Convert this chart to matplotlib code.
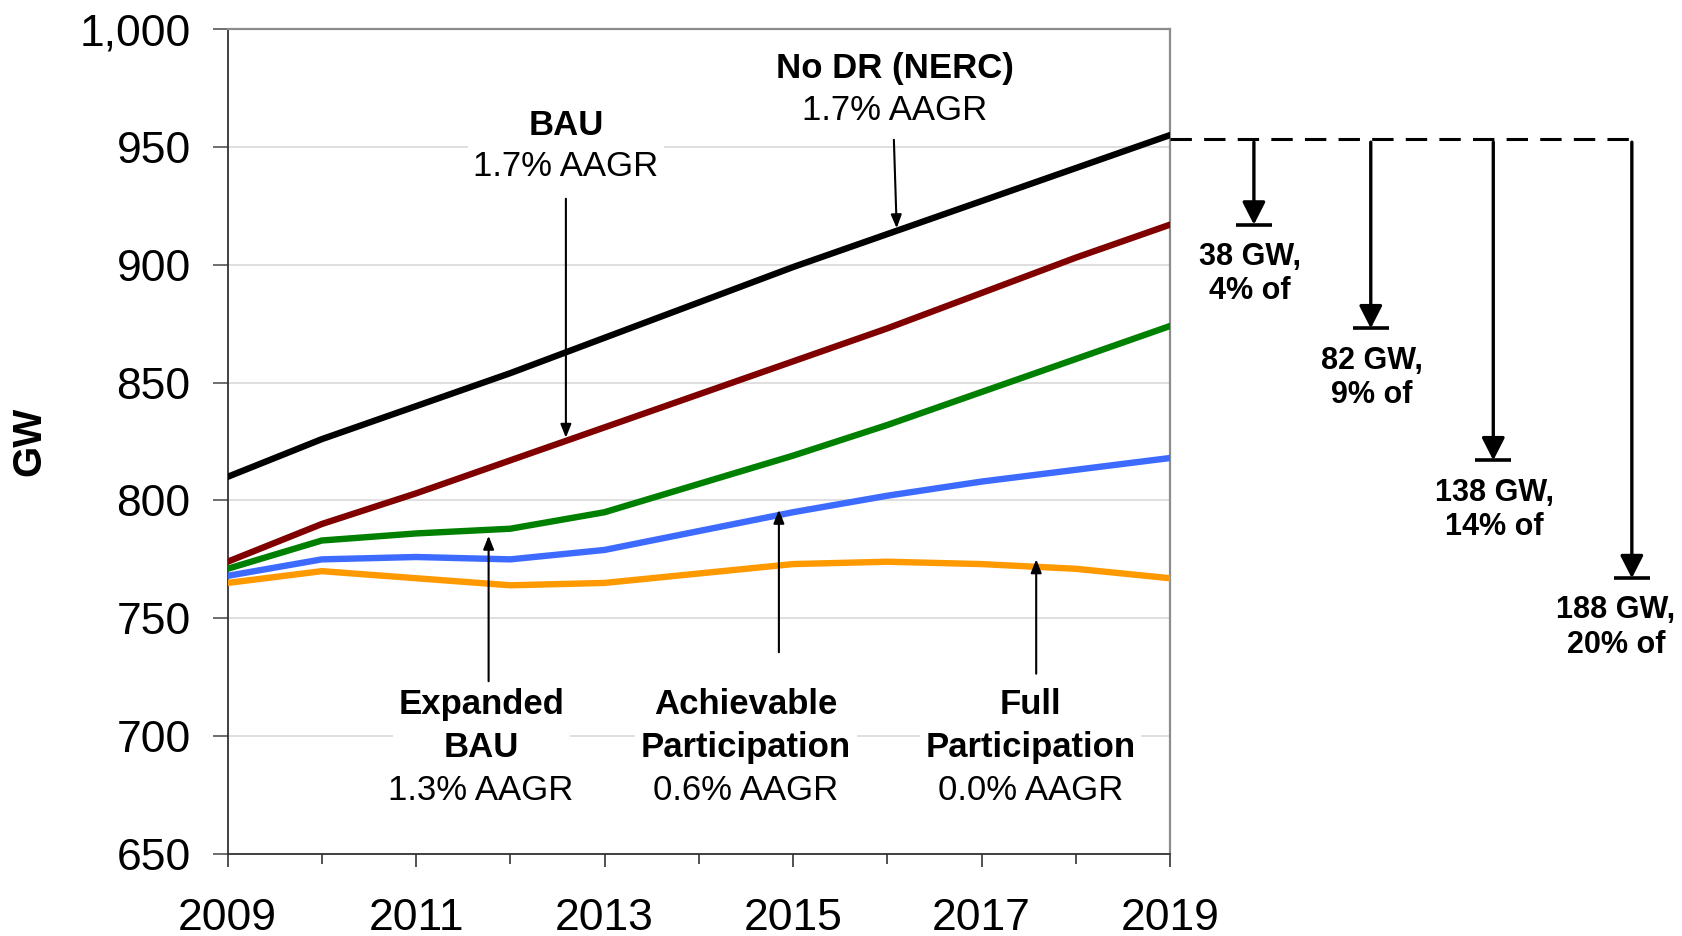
import numpy as np
import matplotlib
matplotlib.use("Agg")
import matplotlib.pyplot as plt
from matplotlib.ticker import FixedLocator, FuncFormatter, MultipleLocator

plt.rcParams['font.family'] = ['Liberation Sans', 'DejaVu Sans']

# data (GW)
years = list(range(2009, 2020))
no_dr = [810, 826, 840, 854, 869, 884, 899, 913, 927, 941, 955]
bau = [774, 790, 803, 817, 831, 845, 859, 873, 888, 903, 917]
expanded_bau = [771, 783, 786, 788, 795, 807, 819, 832, 846, 860, 874]
achievable = [768, 775, 776, 775, 779, 787, 795, 802, 808, 813, 818]
full_part = [765, 770, 767, 764, 765, 769, 773, 774, 773, 771, 767]

series = [no_dr, bau, expanded_bau, achievable, full_part]
colors = ['#000000', '#800000', '#008000', '#3d6bff', '#ff9900']

# reductions from the No DR peak in 2019
drop_gw = [38, 82, 138, 188]
drop_pct = [4, 9, 14, 20]
drop_x = [2019.89, 2021.13, 2022.43, 2023.9]
drop_label_x = [2019.85, 2021.14, 2022.44, 2023.73]

fig = plt.figure(figsize=(16.83, 9.36), dpi=100)
ax = fig.add_axes([0.1352, 0.0876, 0.5600, 0.8814])

for s, c in zip(series, colors):
    ax.plot(years, s, color=c, lw=4.6, solid_joinstyle='round', zorder=3)

ax.set_xlim(2009, 2019)
ax.set_ylim(650, 1000)
ax.yaxis.set_major_locator(MultipleLocator(50))
ax.yaxis.set_major_formatter(FuncFormatter(lambda v, p: f"{int(v):,}"))
ax.xaxis.set_major_locator(FixedLocator(years[::2]))
ax.xaxis.set_minor_locator(FixedLocator(years[1::2]))
ax.grid(axis='y', color='#d9d9d9', lw=1.2, zorder=0)
ax.set_axisbelow(True)

ax.tick_params(axis='y', direction='out', length=10.5, width=1.2, color='#555555',
               labelsize=32, pad=16)
ax.tick_params(axis='x', which='major', direction='out', length=9.5, width=1.2,
               color='#333333', labelsize=32, pad=22)
ax.tick_params(axis='x', which='minor', direction='out', length=7, width=1.2, color='#333333')
for side in ['left', 'bottom']:
    ax.spines[side].set_color('#333333')
    ax.spines[side].set_linewidth(1.3)
for side in ['top', 'right']:
    ax.spines[side].set_color('#8c8c8c')
    ax.spines[side].set_linewidth(1.6)

ax.set_ylabel('GW', fontsize=29, fontweight='bold')
ax.yaxis.set_label_coords(-0.19, 0.5)

box = dict(facecolor='white', edgecolor='none', pad=4)
small_arrow = dict(arrowstyle='-|>,head_length=0.8,head_width=0.32', lw=1.5, color='black',
                   shrinkA=0, shrinkB=0)

# top labels
ax.text(2012.59, 959, 'BAU', fontsize=25, fontweight='bold', ha='center', va='center', bbox=box, zorder=4)
ax.text(2012.59, 941.7, '1.7% AAGR', fontsize=25, ha='center', va='center', bbox=box, zorder=4)
ax.annotate('', xy=(2012.59, 826.6), xytext=(2012.59, 928), arrowprops=small_arrow, zorder=5)

ax.text(2016.08, 983.2, 'No DR (NERC)', fontsize=25, fontweight='bold', ha='center', va='center', bbox=box, zorder=4)
ax.text(2016.08, 965.4, '1.7% AAGR', fontsize=25, ha='center', va='center', bbox=box, zorder=4)
ax.annotate('', xy=(2016.1, 915.5), xytext=(2016.07, 953), arrowprops=small_arrow, zorder=5)

# bottom labels
bottom_labels = [
    (2011.69, 'Expanded\nBAU', '1.3% AAGR', 2011.77, 723.3, 785.0),
    (2014.50, 'Achievable\nParticipation', '0.6% AAGR', 2014.85, 735.6, 796.0),
    (2017.52, 'Full\nParticipation', '0.0% AAGR', 2017.58, 726.5, 775.0),
]
for cx, bold, normal, axx, y0, y1 in bottom_labels:
    ax.text(cx, 704.3, bold, fontsize=25, fontweight='bold', ha='center', va='center',
            linespacing=1.38, bbox=box, zorder=4)
    ax.text(cx, 677.0, normal, fontsize=25, ha='center', va='center', bbox=box, zorder=4)
    ax.annotate('', xy=(axx, y1), xytext=(axx, y0), arrowprops=small_arrow, zorder=5)

# dashed reference line and drop arrows outside the axes
peak = no_dr[-1]
ax.plot([2019, 2023.93], [peak - 1.5, peak - 1.5], color='black', lw=2.2,
        linestyle=(0, (7, 4)), clip_on=False, zorder=5)
big_arrow = dict(arrowstyle='-|>,head_length=0.55,head_width=0.28', lw=2.4, color='black',
                 shrinkA=0, shrinkB=0, mutation_scale=25)
for x, lx, gw, pct in zip(drop_x, drop_label_x, drop_gw, drop_pct):
    yb = peak - gw
    ax.annotate('', xy=(x, yb), xytext=(x, peak - 3), arrowprops=big_arrow,
                annotation_clip=False, zorder=5)
    ax.plot([x - 0.19, x + 0.19], [yb, yb], color='black', lw=2.6, clip_on=False,
            solid_capstyle='butt', zorder=5)
    ax.text(lx, yb - 21, f"{gw} GW,\n{pct}% of", fontsize=22, fontweight='bold',
            ha='center', va='center', linespacing=1.2, clip_on=False)

fig.savefig('out.png', dpi=100)
